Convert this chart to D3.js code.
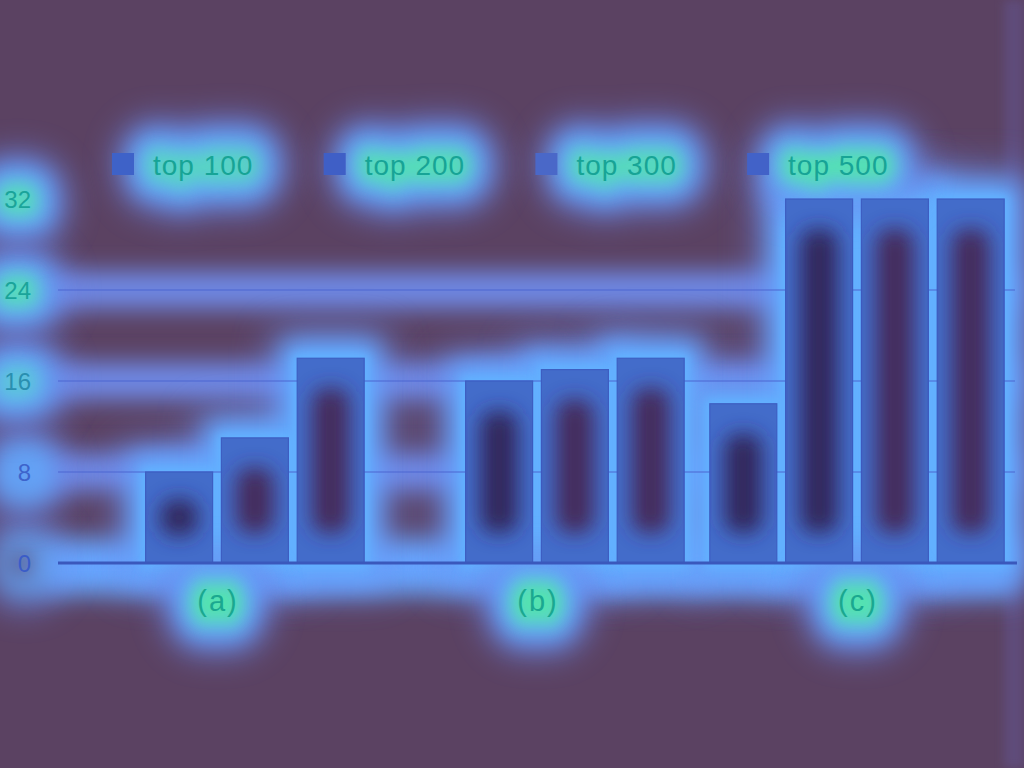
<!DOCTYPE html>
<html><head><meta charset="utf-8">
<script src="https://cdn.jsdelivr.net/npm/d3@7"></script>
<style>html,body{margin:0;padding:0;background:#5b4262;}svg{display:block;}</style>
</head><body>
<script>
const groups = ["(a)", "(b)", "(c)"];
const series = ["top 100", "top 200", "top 300", "top 500"];
const top100 = [0, 0, 14];
const top200 = [8, 16, 32];
const top300 = [11, 17, 32];
const top500 = [18, 18, 32];
const yTicks = [0, 8, 16, 24, 32];

const values = [top100, top200, top300, top500];
const data = groups.map((g, gi) => ({group: g, bars: series.map((s, si) => ({series: s, value: values[si][gi]}))}));

const W = 1024, H = 768;
const svg = d3.select("body").append("svg").attr("width", W).attr("height", H);
const defs = svg.append("defs");
[["b20",20],["b16",16],["b12",12],["b10",10],["b7",7],["b5",5],["b9",9]].forEach(([id,s])=>{
  defs.append("filter").attr("id", id).attr("filterUnits","userSpaceOnUse")
    .attr("x",0).attr("y",0).attr("width",W).attr("height",H)
    .append("feGaussianBlur").attr("stdDeviation", s);
});

const x0 = d3.scaleBand().domain(groups).range([57, 1017]).paddingInner(0.08).paddingOuter(0.04);
const x1 = d3.scaleBand().domain(series).range([0, x0.bandwidth()]).paddingInner(0.116);
const y = d3.scaleLinear().domain([0, 32]).range([563, 199]);

svg.append("rect").attr("width", W).attr("height", H).attr("fill", "#5b4262");
svg.append("rect").attr("x", 1004).attr("y", 0).attr("width", 20).attr("height", H).attr("fill", "#62528a").attr("opacity", 0.6).attr("filter","url(#b5)");

const allBars = data.flatMap(d => d.bars.filter(b => b.value > 0).map(b => ({...b, group: d.group})));
const bx = b => x0(b.group) + x1(b.series);
const font = "'Liberation Sans', Arial, sans-serif";

// ---- halo layer ----
const halo = svg.append("g");
const gridVals = yTicks.filter(t => t > 0 && t < 32);
halo.selectAll("line.gh").data(gridVals).join("line")
  .attr("x1", 40).attr("x2", 1015).attr("y1", d => y(d)).attr("y2", d => y(d))
  .attr("stroke", "#6f8cec").attr("stroke-width", 36).attr("filter", "url(#b12)");
halo.append("line").attr("x1", 40).attr("x2", 1017).attr("y1", y(0) + 4).attr("y2", y(0) + 4)
  .attr("stroke", "#66a6ff").attr("stroke-width", 56).attr("filter", "url(#b12)");
halo.selectAll("rect.bh0").data(allBars).join("rect")
  .attr("x", b => bx(b) - 24).attr("width", x1.bandwidth() + 48)
  .attr("y", b => y(b.value) - 26).attr("height", b => y(0) - y(b.value) + 50)
  .attr("fill", "#6a8cf0").attr("opacity", 0.8).attr("filter", "url(#b20)");
halo.selectAll("rect.bh").data(allBars).join("rect")
  .attr("x", b => bx(b) - 14).attr("width", x1.bandwidth() + 28)
  .attr("y", b => y(b.value) - 16).attr("height", b => y(0) - y(b.value) + 32)
  .attr("fill", "#64aaff").attr("filter", "url(#b12)");
halo.selectAll("rect.bh2").data(allBars).join("rect")
  .attr("x", b => bx(b) - 4).attr("width", x1.bandwidth() + 8)
  .attr("y", b => y(b.value) - 4).attr("height", b => y(0) - y(b.value) + 8)
  .attr("fill", "#62b2ff").attr("filter", "url(#b5)");

// text halos
function addTextHalo(parent, xs, ys, txt, anchor, size, core, ls) {
  const base = () => parent.append("text").attr("x", xs).attr("y", ys).attr("text-anchor", anchor)
    .attr("font-family", font).attr("font-size", size).attr("letter-spacing", ls).text(txt)
    .attr("stroke-linejoin", "round");
  base().attr("fill", "#6a84e8").attr("stroke", "#6a84e8").attr("stroke-width", 76)
    .attr("opacity", 0.75).attr("filter", "url(#b16)");
  base().attr("fill", "#64aaff").attr("stroke", "#64aaff").attr("stroke-width", 48)
    .attr("filter", "url(#b12)");
  if (core > 0) {
    base().attr("fill", "#52e6ac").attr("stroke", "#52e6ac").attr("stroke-width", 18)
      .attr("opacity", core).attr("filter", "url(#b9)");
  }
}
const legX = d => 112 + series.indexOf(d) * 211.7;
const legendCore = [0.7, 0.85, 0.8, 0.9];
series.forEach((s, i) => addTextHalo(halo, legX(s) + 41, 175, s, "start", 28, legendCore[i], 1));
const yCore = {0: 0, 8: 0, 16: 0.45, 24: 0.8, 32: 0.8};
yTicks.forEach(t => addTextHalo(halo, 31, y(t) + 9, String(t), "end", 24, yCore[t], 0));
groups.forEach(g => addTextHalo(halo, x0(g) + x0.bandwidth() / 2 + 1, 611, g, "middle", 29, 0.95, 2));

// ---- gridlines & axis ----
const plot = svg.append("g");
plot.selectAll("line.g").data(gridVals).join("line")
  .attr("x1", 58).attr("x2", 1015).attr("y1", d => y(d)).attr("y2", d => y(d))
  .attr("stroke", "#4c66d2").attr("stroke-width", 1.2);

// ---- bars ----
plot.selectAll("g.bar").data(allBars).join("g").each(function(b, i) {
  const g = d3.select(this);
  const cid = "clip" + i;
  const h = y(0) - y(b.value);
  defs.append("clipPath").attr("id", cid).append("rect")
    .attr("x", bx(b)).attr("y", y(b.value)).attr("width", x1.bandwidth()).attr("height", h);
  g.append("rect").attr("x", bx(b)).attr("y", y(b.value)).attr("width", x1.bandwidth()).attr("height", h)
    .attr("fill", "#436cca").attr("stroke", "#3d5ec2").attr("stroke-width", 1.2);
  const inY = Math.min(30, h * 0.3);
  g.append("g").attr("clip-path", `url(#${cid})`).append("rect")
    .attr("x", bx(b) + 15).attr("width", x1.bandwidth() - 30)
    .attr("y", y(b.value) + inY).attr("height", Math.max(12, h - inY * 2))
    .attr("rx", 14)
    .attr("fill", b.series === "top 100" || b.series === "top 200" ? "#30275c" : "#44295c")
    .attr("filter", "url(#b10)");
});

plot.append("line").attr("x1", 58).attr("x2", 1017).attr("y1", y(0)).attr("y2", y(0))
  .attr("stroke", "#3a58bc").attr("stroke-width", 3);

// ---- texts ----
const legend = svg.append("g");
legend.selectAll("rect").data(series).join("rect")
  .attr("x", d => legX(d)).attr("y", 153).attr("width", 22).attr("height", 22)
  .attr("fill", (d, i) => ["#3e62c8", "#3f5fc6", "#4a68c8", "#4262c8"][i]);
legend.selectAll("text").data(series).join("text")
  .attr("x", d => legX(d) + 41).attr("y", 175).attr("letter-spacing", 1)
  .attr("font-family", font).attr("font-size", 28).attr("fill", "#17a496").text(d => d);

const yColors = {0: "#3a5cc8", 8: "#3d64cc", 16: "#2a8fb0", 24: "#1aa49a", 32: "#1aa49a"};
svg.append("g").selectAll("text").data(yTicks).join("text")
  .attr("x", 31).attr("y", d => y(d) + 9).attr("text-anchor", "end")
  .attr("font-family", font).attr("font-size", 24).attr("fill", d => yColors[d]).text(d => d);

svg.append("g").selectAll("text").data(groups).join("text")
  .attr("x", g => x0(g) + x0.bandwidth() / 2 + 1).attr("y", 611).attr("text-anchor", "middle")
  .attr("letter-spacing", 2)
  .attr("font-family", font).attr("font-size", 29).attr("fill", "#1aa890").text(d => d);
</script>
</body></html>
